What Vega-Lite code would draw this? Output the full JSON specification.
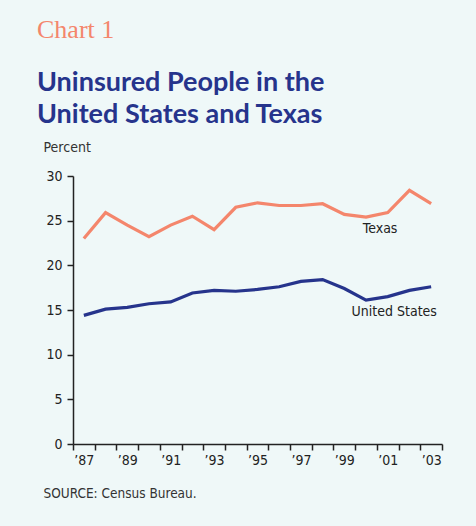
{
  "$schema": "https://vega.github.io/schema/vega-lite/v6.json",
  "autosize": "none",
  "width": 369,
  "height": 268,
  "padding": {"left": 73, "top": 176, "right": 34, "bottom": 82},
  "background": "#eff8f8",
  "title": {
    "text": "Chart  1",
    "subtitle": ["Uninsured People in the", "United States and Texas"],
    "anchor": "start",
    "frame": "bounds",
    "dx": -6,
    "font": "Liberation Serif",
    "fontSize": 26,
    "fontWeight": "normal",
    "color": "#f4866c",
    "subtitleFont": "Lato",
    "subtitleFontSize": 27,
    "subtitleFontWeight": "bold",
    "subtitleColor": "#26348c",
    "subtitleLineHeight": 32.5,
    "subtitlePadding": 27,
    "offset": 12
  },
  "datasets": {
    "rates": [
      {"year": 1987, "series": "Texas", "value": 23.0},
      {"year": 1988, "series": "Texas", "value": 25.9},
      {"year": 1989, "series": "Texas", "value": 24.5},
      {"year": 1990, "series": "Texas", "value": 23.2},
      {"year": 1991, "series": "Texas", "value": 24.5},
      {"year": 1992, "series": "Texas", "value": 25.5},
      {"year": 1993, "series": "Texas", "value": 24.0},
      {"year": 1994, "series": "Texas", "value": 26.5},
      {"year": 1995, "series": "Texas", "value": 27.0},
      {"year": 1996, "series": "Texas", "value": 26.7},
      {"year": 1997, "series": "Texas", "value": 26.7},
      {"year": 1998, "series": "Texas", "value": 26.9},
      {"year": 1999, "series": "Texas", "value": 25.7},
      {"year": 2000, "series": "Texas", "value": 25.4},
      {"year": 2001, "series": "Texas", "value": 25.9},
      {"year": 2002, "series": "Texas", "value": 28.4},
      {"year": 2003, "series": "Texas", "value": 26.9},
      {"year": 1987, "series": "United States", "value": 14.4},
      {"year": 1988, "series": "United States", "value": 15.1},
      {"year": 1989, "series": "United States", "value": 15.3},
      {"year": 1990, "series": "United States", "value": 15.7},
      {"year": 1991, "series": "United States", "value": 15.9},
      {"year": 1992, "series": "United States", "value": 16.9},
      {"year": 1993, "series": "United States", "value": 17.2},
      {"year": 1994, "series": "United States", "value": 17.1},
      {"year": 1995, "series": "United States", "value": 17.3},
      {"year": 1996, "series": "United States", "value": 17.6},
      {"year": 1997, "series": "United States", "value": 18.2},
      {"year": 1998, "series": "United States", "value": 18.4},
      {"year": 1999, "series": "United States", "value": 17.4},
      {"year": 2000, "series": "United States", "value": 16.1},
      {"year": 2001, "series": "United States", "value": 16.5},
      {"year": 2002, "series": "United States", "value": 17.2},
      {"year": 2003, "series": "United States", "value": 17.6}
    ],
    "labels": [
      {"label": "Texas", "year": 2000.65, "value": 24.05},
      {"label": "United States", "year": 2001.3, "value": 14.8}
    ]
  },
  "layer": [
    {
      "data": {"name": "rates"},
      "mark": {"type": "line", "strokeWidth": 3.2, "strokeJoin": "miter"},
      "encoding": {
        "x": {
          "field": "year",
          "type": "quantitative",
          "scale": {"domain": [1986.5, 2003.5], "nice": false, "zero": false},
          "axis": {
            "title": "SOURCE: Census Bureau.",
            "titleX": -30,
            "titleY": 49,
            "titleAlign": "left",
            "titleAnchor": "start",
            "titleBaseline": "middle",
            "titleFont": "Liberation Sans Narrow, DejaVu Sans Condensed, Roboto Condensed, Liberation Sans, sans-serif",
            "titleFontSize": 13.5,
            "titleFontWeight": "normal",
            "titleColor": "#333333",
            "tickCount": 100,
            "values": [1986.5, 1987, 1987.5, 1988, 1988.5, 1989, 1989.5, 1990, 1990.5, 1991, 1991.5, 1992, 1992.5, 1993, 1993.5, 1994, 1994.5, 1995, 1995.5, 1996, 1996.5, 1997, 1997.5, 1998, 1998.5, 1999, 1999.5, 2000, 2000.5, 2001, 2001.5, 2002, 2002.5, 2003, 2003.5],
            "labelExpr": "datum.value % 2 === 1 ? '\u2019' + substring(toString(datum.value), 2, 4) : ''",
            "tickOpacity": {"condition": {"test": "datum.value % 1 === 0", "value": 0}, "value": 1},
            "labelOverlap": false,
            "labelFlush": false,
            "labelBound": false,
            "labelPadding": 3,
            "tickSize": 6
          }
        },
        "y": {
          "field": "value",
          "type": "quantitative",
          "scale": {"domain": [0, 30], "nice": false},
          "axis": {
            "title": "Percent",
            "titleAngle": 0,
            "titleX": -30,
            "titleY": -29,
            "titleAlign": "left",
            "titleBaseline": "middle",
            "titleFont": "Liberation Sans Narrow, DejaVu Sans Condensed, Roboto Condensed, Liberation Sans, sans-serif",
            "titleFontSize": 14,
            "titleFontWeight": "normal",
            "titleColor": "#333333",
            "values": [0, 5, 10, 15, 20, 25, 30],
            "tickSize": 6,
            "labelPadding": 5
          }
        },
        "color": {
          "field": "series",
          "type": "nominal",
          "scale": {"domain": ["Texas", "United States"], "range": ["#f4866c", "#26348c"]},
          "legend": null
        }
      }
    },
    {
      "data": {"name": "labels"},
      "mark": {"type": "text", "font": "Liberation Sans Narrow, DejaVu Sans Condensed, Roboto Condensed, Liberation Sans, sans-serif", "fontSize": 14, "color": "#222222", "baseline": "middle", "align": "center"},
      "encoding": {
        "x": {"field": "year", "type": "quantitative"},
        "y": {"field": "value", "type": "quantitative"},
        "text": {"field": "label"}
      }
    }
  ],
  "config": {
    "view": {"stroke": null},
    "axis": {
      "grid": false,
      "domainColor": "#222222",
      "domainWidth": 1.5,
      "tickColor": "#222222",
      "tickWidth": 1.5,
      "labelFont": "Liberation Sans Narrow, DejaVu Sans Condensed, Roboto Condensed, Liberation Sans, sans-serif",
      "labelFontSize": 14,
      "labelColor": "#222222"
    }
  }
}
